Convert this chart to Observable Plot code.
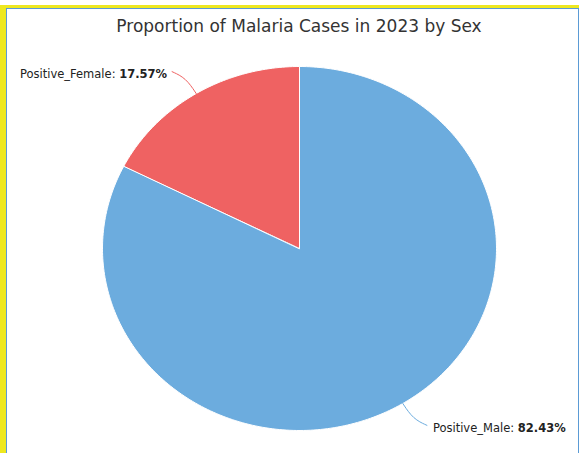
<!DOCTYPE html>
<html>
<head>
<meta charset="utf-8">
<script src="https://cdn.jsdelivr.net/npm/d3@7"></script>
<script src="https://cdn.jsdelivr.net/npm/@observablehq/plot@0.6"></script>
<style>
  html, body { margin: 0; padding: 0; background: #fff; }
  #page { position: relative; width: 579px; height: 453px; overflow: hidden; background: #fff; }
  #yellow { position: absolute; left: 0; top: 5px; width: 579px; height: 460px; background: #eee81f; }
  #frame { position: absolute; left: 6px; top: 8px; width: 571px; height: 470px; background: #fff; border: 1px solid #5b9bd5; }
  #title { position: absolute; left: 0; top: 16px; width: 598px; text-align: center; font-family: "DejaVu Sans", sans-serif; font-size: 17px; color: #333; }
  #chart { position: absolute; left: 0; top: 40px; }
  #chart text { font-family: "DejaVu Sans", sans-serif; }
</style>
</head>
<body>
<div id="page">
  <div id="yellow"></div>
  <div id="frame"></div>
  <div id="title">Proportion of Malaria Cases in 2023 by Sex</div>
  <div id="chart"></div>
</div>
<script>
const categories = ["Positive_Female", "Positive_Male"];
const shares = [17.57, 82.43];
const colors = ["#ef6262", "#6cacde"];

const total = d3.sum(shares);
const start = -2 * Math.PI * shares[0] / total;
const pie = d3.pie().sort(null).startAngle(start).endAngle(start + 2 * Math.PI);
const arcs = pie(shares);

// slice outlines in unit coordinates (angle clockwise from 12 o'clock)
const slicePts = [];
arcs.forEach((a, i) => {
  slicePts.push({name: categories[i], x: 0, y: 0});
  const n = Math.max(2, Math.ceil((a.endAngle - a.startAngle) / (Math.PI / 180)));
  for (let k = 0; k <= n; k++) {
    const t = a.startAngle + (a.endAngle - a.startAngle) * k / n;
    slicePts.push({name: categories[i], x: Math.sin(t), y: Math.cos(t)});
  }
});

// connectors and labels
const connPts = [];
const labels = [];
arcs.forEach((a, i) => {
  const m = (a.startAngle + a.endAngle) / 2;
  const sx = Math.sin(m), sy = Math.cos(m);
  const side = sx < 0 ? -1 : 1;
  const p0 = {x: sx, y: sy};
  const p1 = {x: sx * 1.1, y: sy * 1.1};
  const p2 = {x: sx * 1.1 + side * 0.07, y: sy * 1.1 + Math.sign(sy) * 0.035};
  [p0, p1, p2].forEach(p => connPts.push({name: categories[i], ...p}));
  labels.push({name: categories[i], value: shares[i], x: p2.x, y: p2.y, side});
});

const label = d => `${d.name}: ${d.value.toFixed(2)}%`;

const chart = Plot.plot({
  width: 579,
  height: 413,
  margin: 0,
  x: {domain: [-1, 1], range: [102, 496], axis: null},
  y: {domain: [-1, 1], range: [390, 26], axis: null},
  color: {domain: categories, range: colors},
  marks: [
    Plot.line(slicePts, {x: "x", y: "y", z: "name", fill: "name", stroke: "#fff", strokeWidth: 1, curve: "linear-closed"}),
    Plot.line(connPts, {x: "x", y: "y", z: "name", stroke: "name", strokeWidth: 1, curve: "basis"}),
    Plot.text(labels.filter(d => d.side < 0), {
      x: "x", y: "y", text: label, textAnchor: "end", dx: -5, dy: 3,
      fontSize: 11.5, fill: "#222"
    }),
    Plot.text(labels.filter(d => d.side > 0), {
      x: "x", y: "y", text: label, textAnchor: "start", dx: 6, dy: 3,
      fontSize: 11.5, fill: "#222"
    })
  ]
});

// bold the values
d3.select(chart).selectAll("text").each(function() {
  const el = d3.select(this);
  const s = el.text();
  const idx = s.lastIndexOf(": ");
  if (idx < 0) return;
  el.text(null);
  el.append("tspan").text(s.slice(0, idx + 2));
  el.append("tspan").attr("font-weight", "bold").text(s.slice(idx + 2));
});
document.getElementById("chart").append(chart);
</script>
</body>
</html>
